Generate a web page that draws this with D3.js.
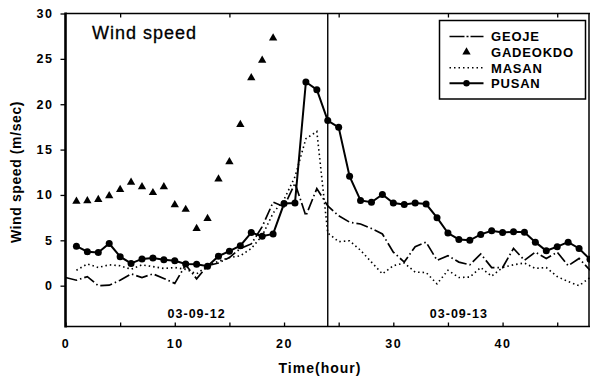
<!DOCTYPE html>
<html>
<head>
<meta charset="utf-8">
<script src="https://cdn.jsdelivr.net/npm/d3@7"></script>
<style>
  body { margin: 0; background: #fff; }
  svg { display: block; font-family: 'Liberation Sans', Arial, sans-serif; }
</style>
</head>
<body>
<div id="chart"></div>
<script>
// wind speed (m/sec) per hour
const geojeHours = d3.range(0, 49)
const geoje = [0.9, 0.6, 1.0, 0.0, 0.05, 0.6, 1.3, 0.9, 1.3, 0.8,
               0.25, 2.3, 0.75, 2.2, 2.5, 3.1, 4.1, 4.6, 6.5, 9.2,
               8.7, 11.3, 7.7, 10.7, 8.8, 7.7, 7.0, 6.8, 6.3, 5.7,
               3.7, 2.6, 4.3, 4.8, 2.8, 3.3, 2.6, 2.3, 3.5, 2.0,
               2.0, 4.1, 2.8, 3.7, 3.0, 3.7, 2.2, 3.0, 1.7]

const gadeokdoHours = d3.range(1, 20)
const gadeokdo = [9.3, 9.35, 9.5, 9.9, 10.6, 11.4, 10.9, 10.25, 10.9, 8.9,
                  8.4, 6.3, 7.4, 11.75, 13.65, 17.75, 22.9, 24.85, 27.3]

const stationHours = d3.range(1, 49)
const masan = [1.7, 2.4, 2.0, 2.3, 2.2, 1.8, 2.3, 2.1, 1.9, 2.0,
               1.8, 1.3, 2.2, 2.7, 3.1, 3.3, 4.1, 5.5, 8.0, 9.5,
               12.0, 16.2, 17.0, 5.8, 4.85, 4.95, 3.9, 2.6, 1.3, 2.2,
               2.5, 1.5, 1.45, 0.2, 1.7, 0.9, 0.95, 2.0, 1.05, 2.0,
               2.3, 2.5, 1.9, 2.0, 1.0, 0.45, 0.0, 0.9]
const pusan = [4.35, 3.75, 3.65, 4.65, 3.2, 2.45, 2.95, 3.05, 2.85, 2.75,
               2.4, 2.35, 2.15, 3.25, 3.8, 4.4, 5.85, 5.45, 5.7, 9.05,
               9.1, 22.45, 21.6, 18.2, 17.45, 12.05, 9.4, 9.2, 10.05, 9.1,
               8.95, 9.1, 9.0, 7.5, 5.8, 5.1, 5.0, 5.65, 6.05, 5.85,
               5.95, 5.9, 4.8, 3.85, 4.3, 4.8, 4.1, 2.9]

const xTicks = [0, 10, 20, 30, 40]
const xMinorTicks = [5, 15, 25, 35, 45]
const yTicks = [0, 5, 10, 15, 20, 25, 30]
const dayLabels = ['03-09-12', '03-09-13']
const legendNames = ['GEOJE', 'GADEOKDO', 'MASAN', 'PUSAN']

const width = 590
const height = 380
const margin = {top: 13.5, right: 0, bottom: 53.5, left: 65.5}

const svg = d3.select('#chart').append('svg')
    .attr('width', width)
    .attr('height', height)

const x = d3.scaleLinear()
    .domain([0, 48])
    .range([margin.left, width - margin.right])

const y = d3.scaleLinear()
    .domain([-4.5, 30])
    .range([height - margin.bottom, margin.top])

const toPoints = (hours, vals) => vals.map((v, i) => ({h: hours[i], v: v}))

// axes
const xAxis = d3.axisBottom(x)
    .tickValues(xTicks.concat(xMinorTicks))
    .tickSize(-4)
    .tickPadding(13)
    .tickFormat(d => xTicks.includes(d) ? d : '')

svg.append('g')
    .attr('transform', `translate(0, ${y(-4.5)})`)
    .call(xAxis)
    .call(g => g.select('.domain').remove())
    .selectAll('text')
        .style('font-size', '12.5px')
        .style('font-weight', 'bold')
        .style('letter-spacing', '1.6px')
        .attr('fill', '#000')

svg.append('g')
    .attr('transform', `translate(0, ${y(30)})`)
    .call(d3.axisTop(x).tickValues(xMinorTicks).tickSize(-4).tickFormat(''))
    .call(g => g.select('.domain').remove())

svg.append('g')
    .attr('transform', `translate(${x(0)}, 0)`)
    .call(d3.axisLeft(y).tickValues(yTicks).tickSize(5).tickPadding(7))
    .call(g => g.select('.domain').remove())
    .selectAll('text')
        .style('font-size', '12.5px')
        .style('font-weight', 'bold')
        .style('letter-spacing', '1.6px')
        .attr('fill', '#000')

svg.selectAll('.tick line').attr('stroke', '#000').attr('stroke-width', 1.3)

// frame
svg.append('line')
    .attr('x1', x(0)).attr('x2', x(0))
    .attr('y1', y(30) - 1).attr('y2', y(-4.5) + 1)
    .attr('stroke', '#000').attr('stroke-width', 2.6)

svg.append('line')
    .attr('x1', x(0)).attr('x2', x(48))
    .attr('y1', y(-4.5)).attr('y2', y(-4.5))
    .attr('stroke', '#000').attr('stroke-width', 1.5)

svg.append('line')
    .attr('x1', x(0)).attr('x2', x(48))
    .attr('y1', y(30)).attr('y2', y(30))
    .attr('stroke', '#000').attr('stroke-width', 1.5)

svg.append('line')
    .attr('x1', x(48) - 1).attr('x2', x(48) - 1)
    .attr('y1', y(30)).attr('y2', y(-4.5))
    .attr('stroke', '#000').attr('stroke-width', 1.5)

// day boundary
svg.append('line')
    .attr('x1', x(24)).attr('x2', x(24))
    .attr('y1', y(30)).attr('y2', y(-4.5))
    .attr('stroke', '#000').attr('stroke-width', 1.4)

svg.selectAll('.day')
    .data(dayLabels)
    .enter()
    .append('text')
    .attr('class', 'day')
    .text(d => d)
    .attr('x', (d, i) => x(24 * i + 12))
    .attr('y', y(-3.6))
    .attr('text-anchor', 'middle')
    .style('font-size', '12.5px')
    .style('font-weight', 'bold')
    .style('letter-spacing', '1px')

// series
const line = d3.line().x(d => x(d.h)).y(d => y(d.v))

const plot = svg.append('g')

plot.append('path')
    .datum(toPoints(geojeHours, geoje))
    .attr('d', line)
    .attr('fill', 'none')
    .attr('stroke', '#000')
    .attr('stroke-width', 1.7)
    .attr('stroke-dasharray', '12,3,1.5,3')

plot.append('path')
    .datum(toPoints(stationHours, masan))
    .attr('d', line)
    .attr('fill', 'none')
    .attr('stroke', '#000')
    .attr('stroke-width', 1.6)
    .attr('stroke-dasharray', '1.5,3')

plot.append('path')
    .datum(toPoints(stationHours, pusan))
    .attr('d', line)
    .attr('fill', 'none')
    .attr('stroke', '#000')
    .attr('stroke-width', 2)

plot.selectAll('.dot')
    .data(toPoints(stationHours, pusan))
    .enter()
    .append('circle')
    .attr('class', 'dot')
    .attr('cx', d => x(d.h))
    .attr('cy', d => y(d.v))
    .attr('r', 3.5)
    .attr('fill', '#000')

const tri = d3.symbol(d3.symbolTriangle, 30)
plot.selectAll('.tri')
    .data(toPoints(gadeokdoHours, gadeokdo))
    .enter()
    .append('path')
    .attr('class', 'tri')
    .attr('d', tri)
    .attr('transform', d => `translate(${x(d.h)}, ${y(d.v)})`)
    .attr('fill', '#000')

// titles
svg.append('text')
    .text('Wind speed')
    .attr('x', 92)
    .attr('y', 39)
    .style('font-size', '18px')
    .style('letter-spacing', '1px')
    .attr('stroke', '#000')
    .attr('stroke-width', 0.3)

svg.append('text')
    .text('Wind speed (m/sec)')
    .attr('transform', 'rotate(-90)')
    .attr('x', -172)
    .attr('y', 21)
    .attr('text-anchor', 'middle')
    .style('font-size', '14px')
    .style('font-weight', 'bold')
    .style('letter-spacing', '0.6px')

svg.append('text')
    .text('Time(hour)')
    .attr('x', 320)
    .attr('y', 373)
    .attr('text-anchor', 'middle')
    .style('font-size', '14px')
    .style('font-weight', 'bold')
    .style('letter-spacing', '1px')

// legend
const legend = svg.append('g').attr('transform', 'translate(439.5, 20.5)')

legend.append('rect')
    .attr('width', 146)
    .attr('height', 78.5)
    .attr('fill', '#fff')
    .attr('stroke', '#000')
    .attr('stroke-width', 1.5)

const rows = legend.selectAll('.row')
    .data(legendNames)
    .enter()
    .append('g')
    .attr('class', 'row')
    .attr('transform', (d, i) => `translate(0, ${16 + i * 15.6})`)

rows.append('text')
    .text(d => d)
    .attr('x', 51.5)
    .attr('y', 4.8)
    .style('font-size', '13px')
    .style('font-weight', 'bold')
    .style('letter-spacing', '0.8px')

rows.filter(d => d !== 'GADEOKDO')
    .append('line')
    .attr('x1', 10).attr('x2', 44)
    .attr('stroke', '#000')
    .attr('stroke-width', d => d === 'PUSAN' ? 2 : 1.6)
    .attr('stroke-dasharray', d => d === 'GEOJE' ? '15,2,2,2,15' : d === 'MASAN' ? '1.5,3' : null)

rows.filter(d => d === 'PUSAN')
    .append('circle')
    .attr('cx', 27).attr('r', 3.2)

rows.filter(d => d === 'GADEOKDO')
    .append('path')
    .attr('d', tri)
    .attr('transform', 'translate(27, 0)')
</script>
</body>
</html>
